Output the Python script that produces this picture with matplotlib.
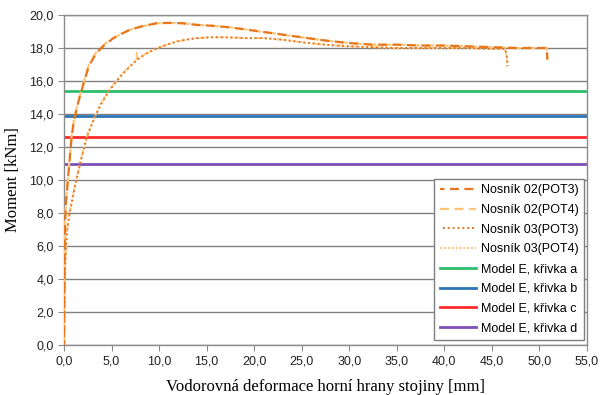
import matplotlib.pyplot as plt
from matplotlib.ticker import FuncFormatter, MultipleLocator

# Nosník 02 - measured moment vs. horizontal deformation
n02_x = [0, 0.02, 0.05, 0.1, 0.2, 0.35, 0.56, 0.8, 1.0, 1.4, 1.86, 2.6, 3.4, 4.3, 5.2, 6.0,
         6.9, 8.3, 9.75, 11.0, 12.5, 14.0, 15.5, 17.5, 20.0, 22.5, 25.0, 27.5, 30.0, 32.5,
         35.0, 37.5, 40.0, 42.5, 45.0, 47.5, 50.0, 50.8, 50.8, 50.85]
n02_pot3 = [0, 2.5, 5.0, 7.0, 8.6, 9.6, 11.0, 12.6, 13.4, 14.5, 15.45, 16.9, 17.7, 18.2, 18.6, 18.85,
            19.1, 19.33, 19.5, 19.52, 19.5, 19.4, 19.35, 19.25, 19.05, 18.85, 18.65, 18.45, 18.3, 18.2,
            18.2, 18.15, 18.15, 18.1, 18.05, 18.0, 18.0, 18.0, 17.8, 17.3]
n02_pot4 = [0, 2.6, 5.1, 7.1, 8.7, 9.7, 11.1, 12.7, 13.5, 14.6, 15.5, 16.95, 17.75, 18.25, 18.6, 18.85,
            19.1, 19.33, 19.5, 19.52, 19.5, 19.4, 19.35, 19.25, 19.05, 18.85, 18.65, 18.45, 18.3, 18.2,
            18.2, 18.15, 18.15, 18.1, 18.05, 18.0, 18.0, 18.0, 17.8, 17.3]

# Nosník 03
n03_x = [0, 0.02, 0.05, 0.1, 0.2, 0.3, 0.6, 1.15, 1.7, 2.4, 3.1, 3.9, 4.8, 5.9, 6.8, 7.6, 7.65,
         7.7, 8.6, 9.75, 10.8, 11.9, 13.0, 14.0, 15.5, 17.0, 19.0, 21.0, 23.0,
         25.0, 27.5, 30.0, 32.5, 35.0, 37.5, 40.0, 42.5, 45.0, 46.4, 46.6, 46.65]
n03_pot3 = [0, 1.5, 3.0, 4.5, 5.8, 6.8, 8.0, 9.6, 11.0, 12.6, 13.6, 14.6, 15.45, 16.26, 16.8, 17.25, 17.27,
            17.3, 17.65, 17.98, 18.2, 18.4, 18.52, 18.6, 18.65, 18.65, 18.6, 18.6, 18.5,
            18.35, 18.2, 18.1, 18.05, 18.0, 18.0, 18.0, 18.0, 17.95, 17.95, 17.4, 16.9]
n03_pot4 = [0, 1.6, 3.1, 4.6, 5.9, 6.9, 8.1, 9.7, 11.1, 12.7, 13.7, 14.7, 15.5, 16.3, 16.85, 17.25, 17.75,
            17.3, 17.65, 17.98, 18.2, 18.4, 18.52, 18.6, 18.65, 18.65, 18.6, 18.6, 18.5,
            18.35, 18.2, 18.1, 18.05, 18.0, 18.0, 18.0, 18.0, 17.95, 17.95, 17.4, 16.9]

# Model E, constant moment levels
model_labels = ["Model E, křivka a", "Model E, křivka b", "Model E, křivka c", "Model E, křivka d"]
model_values = [15.4, 13.9, 12.6, 11.0]
model_colors = ["#2DBE6C", "#2E75B6", "#FF2A2A", "#7F4FB5"]

dark_orange = "#E8761C"
light_orange = "#FFC476"

fig = plt.figure(figsize=(6.01, 3.95), dpi=100)
ax = fig.add_axes([0.1065, 0.1266, 0.8700, 0.8354])

ax.plot(n02_x, n02_pot4, color=light_orange, lw=1.6, ls=(0, (4, 2.5)), label="Nosník 02(POT4)", zorder=3)
ax.plot(n02_x, n02_pot3, color=dark_orange, lw=1.6, ls=(2, (4, 2.5)), label="Nosník 02(POT3)", zorder=4)
ax.plot(n03_x, n03_pot4, color=light_orange, lw=1.4, ls=(0, (1, 1)), label="Nosník 03(POT4)", zorder=3)
ax.plot(n03_x, n03_pot3, color=dark_orange, lw=1.4, ls=(1, (1, 1.5)), label="Nosník 03(POT3)", zorder=4)

for lab, val, col in zip(model_labels, model_values, model_colors):
    ax.axhline(val, color=col, lw=2.0, label=lab, zorder=2)

ax.set_xlim(0, 55)
ax.set_ylim(0, 20)
ax.xaxis.set_major_locator(MultipleLocator(5))
ax.yaxis.set_major_locator(MultipleLocator(2))
fmt = FuncFormatter(lambda v, p: f"{v:.1f}".replace(".", ","))
ax.xaxis.set_major_formatter(fmt)
ax.yaxis.set_major_formatter(fmt)
ax.grid(axis="y", color="#808080", lw=1.0)
ax.set_axisbelow(True)
for s in ax.spines.values():
    s.set_color("#8C8C8C")
    s.set_linewidth(1.0)
ax.tick_params(colors="#8C8C8C", labelcolor="#222222", labelsize=9, length=4)
for t in ax.get_xticklabels() + ax.get_yticklabels():
    t.set_fontfamily("Liberation Sans")

ax.set_xlabel("Vodorovná deformace horní hrany stojiny [mm]", fontfamily="Liberation Serif",
              fontsize=12, labelpad=8)
ax.set_ylabel("Moment [kNm]", fontfamily="Liberation Serif", fontsize=12, labelpad=6)

h, l = ax.get_legend_handles_labels()
order = ["Nosník 02(POT3)", "Nosník 02(POT4)", "Nosník 03(POT3)", "Nosník 03(POT4)"] + model_labels
hs = [h[l.index(o)] for o in order]
leg = ax.legend(hs, order, loc="lower right", bbox_to_anchor=(0.995, 0.015), fancybox=False,
                framealpha=1, edgecolor="#7F7F7F", prop={"family": "Liberation Sans", "size": 9},
                handlelength=2.9, labelspacing=0.62, borderpad=0.45, handletextpad=0.4,
                borderaxespad=0)
leg.get_frame().set_linewidth(1.0)

fig.savefig("out.png", dpi=100)
